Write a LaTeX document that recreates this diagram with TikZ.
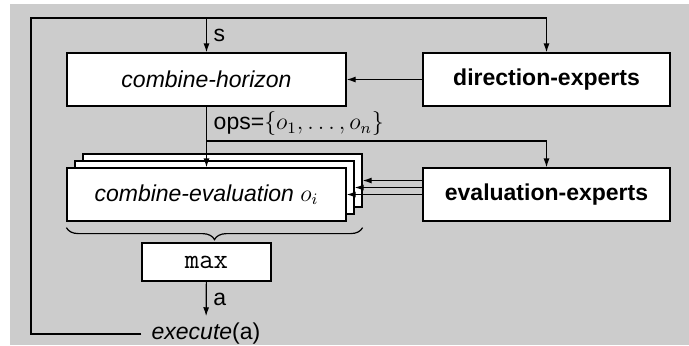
\documentclass[tikz,border=0pt]{standalone}
\usepackage{fontspec}
\setmainfont{Liberation Sans}
\usetikzlibrary{arrows.meta,decorations.pathreplacing,calc}
\definecolor{panel}{HTML}{CCCCCC}

\begin{document}
\begin{tikzpicture}[
    x=0.5bp, y=-0.5bp,
    font=\fontsize{11.5bp}{14bp}\selectfont,
    box/.style={rectangle, draw=black, fill=white, line width=0.6bp, inner sep=0pt, minimum width=139.5bp, minimum height=26.5bp, align=center},
    expert/.style={box, minimum width=123.5bp, font=\fontsize{11.5bp}{14bp}\selectfont\bfseries},
    opbox/.style={box, minimum width=64.5bp, minimum height=19bp, font=\fontsize{14bp}{16bp}\selectfont\ttfamily},
    arrow/.style={-{Latex[length=4.5bp,width=3bp]}, line width=0.6bp, draw=black},
    brace/.style={decorate, decoration={brace, mirror, amplitude=6bp}, line width=0.6bp}
]

\useasboundingbox (0,0) rectangle (689,345);
\fill[panel] (10,4) rectangle (689,345);

% Upper row - horizon
\node[box] (horizon) at (206.5,79.5) {\textit{combine-horizon}};
\node[expert] (direction) at (546.5,79.5) {direction-experts};

% Lower row - stacked evaluations
\node[box] (evalback) at (222.5,180.5) {};
\node[box] (evalmid) at (214.5,187.5) {};
\node[box] (evalfront) at (206.5,194.5) {\textit{combine-evaluation} $o_i$};
\node[expert] (evaluation) at (546.5,194.5) {evaluation-experts};

% Selection and action
\node[opbox] (max) at (206.5,262) {max};
\node[inner xsep=5bp] (execute) at (206,334) {\textit{execute}(a)};

% Corners of the feedback loop
\coordinate (loopbottom) at (31,334);
\coordinate (looptop) at (31,18);
\coordinate (opsfork) at (206.5,141);

% Arrows
\draw[arrow] (execute.west) -- (loopbottom) -- (looptop) -| (direction.north);
\draw[arrow] (horizon.north |- looptop) -- node[right] {s} (horizon.north);
\draw[arrow] (direction) -- (horizon);
\draw[arrow] (horizon) -- node[right] {ops=$\{o_1,\ldots,o_n\}$} (opsfork) -- (evalfront);
\draw[arrow] (opsfork) -| (evaluation.north);
\foreach \part in {evalback,evalmid,evalfront}
  \draw[arrow] (evaluation.west |- \part.east) -- (\part.east);
\draw[brace] ($(evalfront.south west)+(0,6)$) -- ($(evalback.south east |- evalfront.south)+(0,6)$);
\draw[arrow] (max) -- node[right] {a} (execute);

\end{tikzpicture}
\end{document}
